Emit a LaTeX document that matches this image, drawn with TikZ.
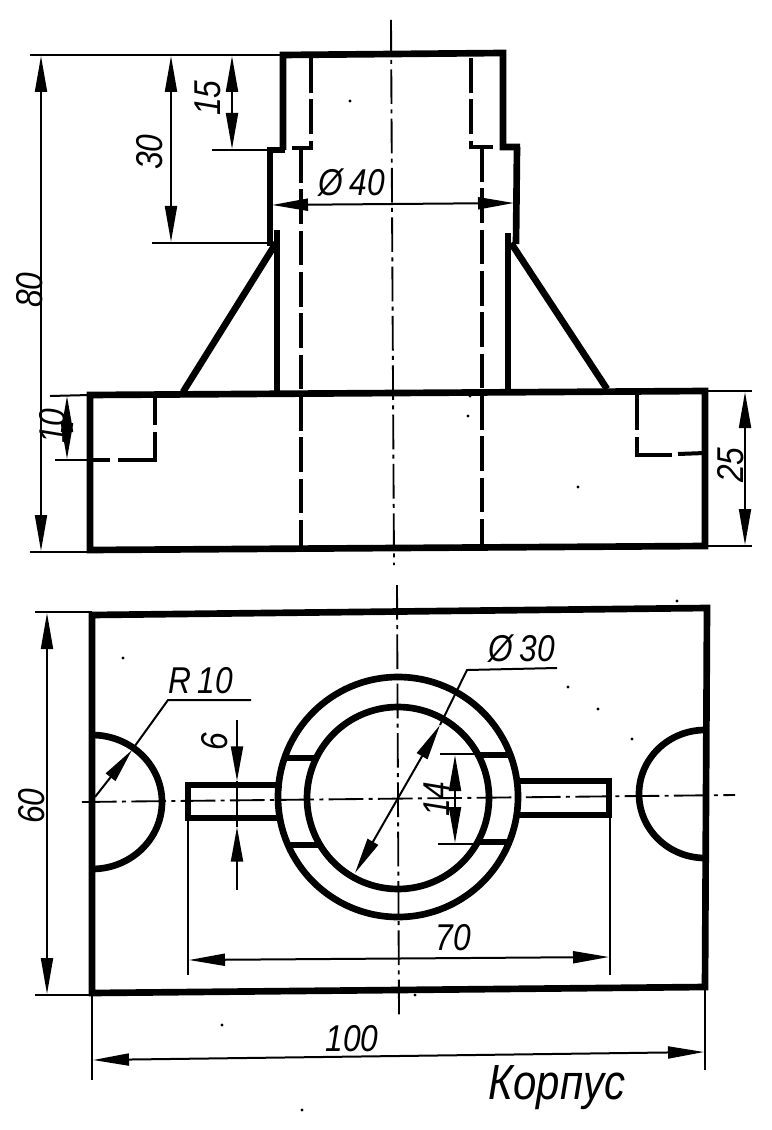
\documentclass[tikz,border=0pt]{standalone}
\usepackage{fontspec}
\setmainfont{Liberation Sans}
\newfontfamily\dimfont{Liberation Sans}[FakeStretch=0.85]
\usetikzlibrary{arrows.meta}

\tikzset{
    contour/.style={line width=5pt, line join=miter},
    hidden/.style={line width=3pt, dash pattern=on 26pt off 5pt},
    piece/.style={line width=3pt},
    axis/.style={line width=1.4pt, dash pattern=on 26pt off 4pt on 3pt off 4pt},
    thin line/.style={line width=1.5pt},
    dim/.style={line width=1.5pt, {Triangle[length=27pt,width=9pt]}-{Triangle[length=27pt,width=9pt]}},
    lead/.style={line width=1.5pt, -{Triangle[length=26pt,width=9pt]}},
    label/.style={font=\fontsize{28}{28}\dimfont\itshape, inner sep=0pt},
}

\begin{document}
\begin{tikzpicture}[x=0.75pt, y=-0.75pt]
\useasboundingbox (0,0) rectangle (771,1130);

% front view
\draw[contour] (283,150) -- (283,55) -- (503,53) -- (503,147) -- (520,147);
\draw[contour] (285,150) -- (270,150) -- (270,246);
\draw[contour] (517,147) -- (516,244);
\draw[contour] (277,230) -- (277,392);
\draw[contour] (508,233) -- (508,390);
\draw[contour] (276,243) -- (183,392);
\draw[contour] (511,243) -- (607,389);
\draw[contour] (90,395) -- (705,391) -- (705,546) -- (90,550) -- cycle;

% hidden edges
\draw[hidden] (311,58) -- (311,148) -- (292,148);
\draw[hidden] (471,58) -- (471,147) -- (493,147);
\draw[hidden] (301,148) -- (301,547);
\draw[hidden] (482,147) -- (482,545);
\draw[piece] (155,397) -- (155,425);
\draw[piece] (155,432) -- (155,460) -- (118,460);
\draw[piece] (110,460) -- (90,460);
\draw[piece] (637,393) -- (637,430);
\draw[piece] (637,437) -- (637,455) -- (672,455);
\draw[piece] (678,454) -- (705,453);

\draw[axis] (391,20) -- (394,565);

% front view dimensions
\draw[thin line] (30,55) -- (283,55);
\draw[thin line] (30,552) -- (90,552);
\draw[thin line] (212,150) -- (268,150);
\draw[thin line] (152,243) -- (268,243);
\draw[thin line] (50,396) -- (90,395);
\draw[thin line] (55,460) -- (90,460);
\draw[thin line] (705,391) -- (752,391);
\draw[thin line] (705,546) -- (752,546);
\draw[dim] (41,56) -- (41,551);
\draw[dim] (171,56) -- (171,242);
\draw[dim] (232,56) -- (232,149);
\draw[dim] (272,205) -- (514,203);
\draw[dim] (67,396) -- (67,459);
\draw[dim] (745,392) -- (745,545);

\node[label, rotate=90] (lab80) at (30,290) {80};
\node[label, rotate=90] (lab30) at (150,152) {30};
\node[label, rotate=90] (lab15) at (208,98) {15};
\node[label] (lab40) at (352,183) {Ø\,40};
\node[label, rotate=90] (lab10) at (53,426) {10};
\node[label, rotate=90] (lab25) at (731,465) {25};

% top view
\draw[contour] (92,615) -- (707,608) -- (705,987) -- (92,993) -- cycle;
\draw[contour] (92,735) arc[start angle=90, end angle=-90, x radius=70, y radius=-67];
\draw[contour] (705,730) arc[start angle=90, end angle=270, x radius=66, y radius=-64];
\draw[contour] (398,797) circle[radius=120];
\draw[contour] (398,798) circle[radius=91];
\draw[contour] (282,785) -- (188,785) -- (188,818) -- (282,818);
\draw[contour] (515,781) -- (609,781) -- (609,815) -- (515,815);
\draw[contour] (287,758) -- (315,758);
\draw[contour] (290,845) -- (318,845);
\draw[contour] (478,755) -- (508,755);
\draw[contour] (480,842) -- (508,842);

\draw[axis] (397,585) -- (399,1015);
\draw[axis] (82,802) -- (735,795);

% top view dimensions
\draw[thin line] (35,612) -- (92,612);
\draw[thin line] (35,995) -- (92,995);
\draw[thin line] (92,993) -- (92,1080);
\draw[thin line] (705,987) -- (705,1070);
\draw[thin line] (188,820) -- (188,975);
\draw[thin line] (610,815) -- (610,975);
\draw[thin line] (440,754) -- (478,754);
\draw[thin line] (438,844) -- (480,844);
\draw[dim] (47,613) -- (47,994);
\draw[dim] (93,1060) -- (704,1052);
\draw[dim] (189,960) -- (609,957);
\draw[dim] (455,755) -- (455,843);
\draw[lead] (237,720) -- (237,781);
\draw[lead] (237,890) -- (237,827);
\draw[thin line] (237,781) -- (237,827);
\draw[dim] (355,873) -- (440,725);
\draw[thin line] (440,725) -- (467,670) -- (557,668);
\draw[lead] (95,797) -- (132,750);
\draw[thin line] (132,750) -- (168,700) -- (251,700);

\node[label, rotate=90] (lab60) at (32,806) {60};
\node[label] (labR) at (201,681) {R\,10};
\node[label] (lab30d) at (522,649) {Ø\,30};
\node[label, rotate=90] (lab6) at (215,742) {6};
\node[label, rotate=90] (lab14) at (437,799) {14};
\node[label] (lab70) at (453,938) {70};
\node[label] (lab100) at (352,1039) {100};
\node[label, font=\fontsize{37}{37}\dimfont\itshape] (title) at (557,1088) {Корпус};

% specks of the scan
\foreach \x/\y in {350/101, 468/416, 470/396, 578/487, 415/995, 222/1025, 302/1110,
    677/601, 123/658, 568/687, 598/709, 632/739}
    \fill (\x,\y) circle[radius=1.6];
\end{tikzpicture}
\end{document}
